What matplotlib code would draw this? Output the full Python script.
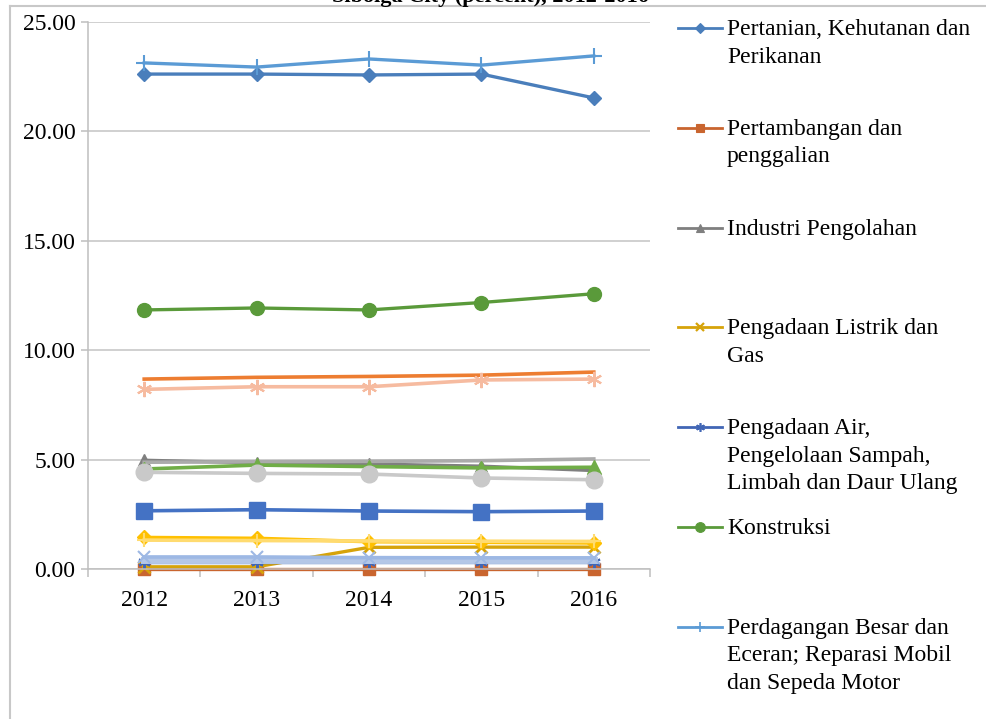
import matplotlib
matplotlib.use('Agg')
import matplotlib.pyplot as plt
from matplotlib.lines import Line2D
import numpy as np

plt.rcParams['font.family'] = ['Liberation Serif', 'DejaVu Serif']

W, H = 986, 719

# ---------------- data ----------------
years = ['2012', '2013', '2014', '2015', '2016']
ytick_values = [0, 5, 10, 15, 20, 25]
title_text = 'Sibolga City (percent), 2012-2016'

pertanian = [22.62, 22.62, 22.58, 22.62, 21.53]
pertambangan = [0.02, 0.02, 0.02, 0.02, 0.02]
industri = [4.97, 4.85, 4.80, 4.70, 4.50]
listrik = [0.10, 0.10, 0.99, 1.00, 1.00]
air = [0.30, 0.30, 0.30, 0.30, 0.30]
konstruksi = [11.84, 11.93, 11.84, 12.18, 12.58]
perdagangan = [23.13, 22.94, 23.31, 23.03, 23.45]
transportasi = [8.68, 8.76, 8.80, 8.86, 9.00]
akomodasi = [4.88, 4.90, 4.92, 4.95, 5.03]
informasi = [1.44, 1.40, 1.25, 1.22, 1.19]
keuangan = [2.66, 2.71, 2.65, 2.62, 2.65]
real_estate = [4.57, 4.75, 4.68, 4.62, 4.65]
jasa_perusahaan = [0.42, 0.42, 0.42, 0.42, 0.42]
administrasi = [8.21, 8.33, 8.33, 8.64, 8.68]
pendidikan = [4.42, 4.37, 4.34, 4.16, 4.08]
kesehatan = [1.32, 1.30, 1.28, 1.27, 1.26]
jasa_lainnya = [0.55, 0.55, 0.52, 0.51, 0.51]

series_names = [
    'Pertanian, Kehutanan dan\nPerikanan',
    'Pertambangan dan\npenggalian',
    'Industri Pengolahan',
    'Pengadaan Listrik dan\nGas',
    'Pengadaan Air,\nPengelolaan Sampah,\nLimbah dan Daur Ulang',
    'Konstruksi',
    'Perdagangan Besar dan\nEceran; Reparasi Mobil\ndan Sepeda Motor',
    'Transportasi dan Pergudangan',
    'Penyediaan Akomodasi dan Makan Minum',
    'Informasi dan Komunikasi',
    'Jasa Keuangan dan Asuransi',
    'Real Estate',
    'Jasa Perusahaan',
    'Administrasi Pemerintahan, Pertahanan dan Jaminan Sosial Wajib',
    'Jasa Pendidikan',
    'Jasa Kesehatan dan Kegiatan Sosial',
    'Jasa lainnya',
]
series_values = [pertanian, pertambangan, industri, listrik, air, konstruksi,
                 perdagangan, transportasi, akomodasi, informasi, keuangan,
                 real_estate, jasa_perusahaan, administrasi, pendidikan,
                 kesehatan, jasa_lainnya]

# ---------------- styles ----------------
ast = (6, 2, 0)
styles = [
    dict(color='#4A7EBB', marker='D', ms=7.5, lw=2.4),
    dict(color='#C9652F', marker='s', ms=9, lw=2.4),
    dict(color='#7F7F7F', marker='^', ms=8, lw=2.4),
    dict(color='#D6A30A', marker='x', ms=9, lw=2.4, mew=2),
    dict(color='#4166B5', marker=ast, ms=9, lw=2.4, mew=1.5),
    dict(color='#5A9A3A', marker='o', ms=10, lw=2.4),
    dict(color='#5B9BD5', marker='+', ms=11, lw=2.4, mew=1.5),
    dict(color='#ED7D31', marker=None, ms=0, lw=2.6),
    dict(color='#ABABAB', marker=None, ms=0, lw=2.6),
    dict(color='#FFC000', marker='D', ms=7, lw=2.6),
    dict(color='#4472C4', marker='s', ms=11, lw=2.6),
    dict(color='#70AD47', marker='^', ms=10, lw=2.6),
    dict(color='#B4C7E7', marker=None, ms=0, lw=5.0),
    dict(color='#F6BBA0', marker=ast, ms=11, lw=2.6, mew=1.5),
    dict(color='#C9C9C9', marker='o', ms=12, lw=2.6),
    dict(color='#FFDB70', marker='+', ms=10, lw=2.6, mew=1.5),
    dict(color='#9DB8E4', marker='x', ms=9, lw=2.6, mew=1.5),
]

fig = plt.figure(figsize=(W / 100, H / 100), dpi=100)
ax = fig.add_axes([88 / W, (H - 569) / H, 562 / W, 547 / H])

x = np.arange(len(years))
for vals, st in zip(series_values, styles):
    kw = dict(color=st['color'], lw=st['lw'], solid_joinstyle='round',
              clip_on=False)
    if st['marker'] is not None:
        kw.update(marker=st['marker'], markersize=st['ms'],
                  markerfacecolor=st['color'], markeredgecolor=st['color'],
                  markeredgewidth=st.get('mew', 1.0))
    ax.plot(x, vals, **kw)

ax.set_xlim(-0.5, len(years) - 0.5)
ax.set_ylim(0, 25)
ax.set_xticks(x)
ax.set_xticklabels(years, fontsize=17)
ax.set_xticks(np.arange(-0.5, len(years), 1), minor=True)
ax.tick_params(axis='x', which='major', length=0, pad=15)
ax.tick_params(axis='x', which='minor', length=6, color='#BFBFBF', width=1.1,
               direction='out')
ax.set_yticks(ytick_values)
ax.set_yticklabels([f'{v:.2f}' for v in ytick_values], fontsize=17)
ax.tick_params(axis='y', length=5, color='#BFBFBF', width=1.1, pad=4)
ax.yaxis.grid(True, color='#C4C4C4', lw=1.1)
ax.set_axisbelow(True)
for s in ['top', 'right']:
    ax.spines[s].set_visible(False)
for s in ['left', 'bottom']:
    ax.spines[s].set_color('#BFBFBF')
    ax.spines[s].set_linewidth(1.1)

# outer frame
fig.add_artist(Line2D([10 / W, 10 / W], [0, 1 - 6 / H], transform=fig.transFigure,
                      color='#C8C8C8', lw=1.5))
fig.add_artist(Line2D([10 / W, 1], [1 - 6 / H, 1 - 6 / H], transform=fig.transFigure,
                      color='#C8C8C8', lw=1.5))

# title (partly cut off at the top, as in the reference)
fig.text(490 / W, 1 - 2 / H, title_text, ha='center', va='baseline',
         fontsize=16, fontweight='bold')

# manual legend (first 7 entries visible)
def fx(px):
    return px / W

def fy(py):
    return 1 - py / H

row0, row_step, line_step = 28, 99.8, 27.6
for i in range(7):
    st = styles[i]
    yy = row0 + i * row_step
    fig.add_artist(Line2D([fx(678), fx(722)], [fy(yy), fy(yy)],
                          transform=fig.transFigure, color=st['color'], lw=2.0))
    fig.add_artist(Line2D([fx(700)], [fy(yy)], transform=fig.transFigure,
                          marker=st['marker'], markersize=st['ms'] * 0.7,
                          color=st['color'], markerfacecolor=st['color'],
                          markeredgecolor=st['color'],
                          markeredgewidth=st.get('mew', 1.0) * 0.8))
    for k, line in enumerate(series_names[i].split('\n')):
        fig.text(fx(727), fy(yy + 7 + k * line_step), line, ha='left',
                 va='baseline', fontsize=17)

fig.savefig('out.png', dpi=100)
